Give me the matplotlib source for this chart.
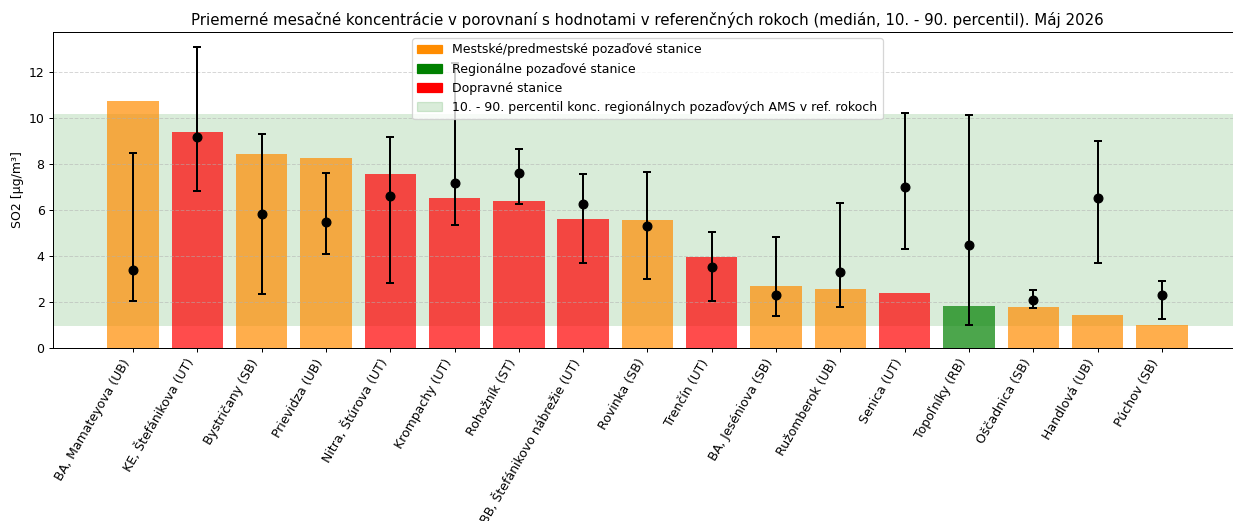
import matplotlib
matplotlib.use("Agg")
import matplotlib.pyplot as plt
from matplotlib.patches import Patch
import numpy as np

stations = ["BA, Mamateyova (UB)", "KE, Štefánikova (UT)", "Bystričany (SB)", "Prievidza (UB)",
            "Nitra, Štúrova (UT)", "Krompachy (UT)", "Rohožník (ST)", "BB, Štefánikovo nábrežie (UT)",
            "Rovinka (SB)", "Trenčín (UT)", "BA, Jeséniova (SB)", "Ružomberok (UB)", "Senica (UT)",
            "Topoľníky (RB)", "Oščadnica (SB)", "Handlová (UB)", "Púchov (SB)"]
station_types = ["U", "T", "U", "U", "T", "T", "T", "T", "U", "T", "U", "U", "T", "R", "U", "U", "U"]
monthly_mean = [10.74, 9.39, 8.43, 8.26, 7.57, 6.52, 6.39, 5.61, 5.57, 3.96, 2.70, 2.57, 2.39,
                1.83, 1.78, 1.43, 1.00]
ref_median = [3.39, 9.17, 5.85, 5.48, 6.61, 7.17, 7.61, 6.26, 5.30, 3.52, 2.30, 3.30, 7.00,
              4.50, 2.09, 6.52, 2.30]
ref_p10 = [2.04, 6.83, 2.35, 4.09, 2.83, 5.35, 6.26, 3.70, 3.00, 2.04, 1.39, 1.78, 4.30,
           1.00, 1.74, 3.70, 1.26]
ref_p90 = [8.48, 13.09, 9.30, 7.61, 9.20, 12.40, 8.65, 7.57, 7.65, 5.04, 4.83, 6.30, 10.22,
           10.15, 2.52, 9.00, 2.91]
band_low, band_high = 0.97, 10.20

type_colors = {"U": "darkorange", "R": "green", "T": "red"}
legend_labels = ["Mestské/predmestské pozaďové stanice", "Regionálne pozaďové stanice", "Dopravné stanice",
                 "10. - 90. percentil konc. regionálnych pozaďových AMS v ref. rokoch"]

DPI = 90
fig = plt.figure(figsize=(1233 / DPI, 521 / DPI), dpi=DPI)
ax = fig.add_axes([0.0432, 0.332, 0.9638, 0.6065])

x = np.arange(len(stations))
ax.axhspan(band_low, band_high, color="green", alpha=0.15, lw=0)
ax.bar(x, monthly_mean, width=0.8, color=[type_colors[t] for t in station_types], alpha=0.7)
med = np.array(ref_median)
yerr = np.vstack([med - np.array(ref_p10), np.array(ref_p90) - med])
ax.errorbar(x, med, yerr=yerr, fmt="o", color="black", markersize=7, capsize=3.5,
            elinewidth=1.6, capthick=1.6)

ax.set_ylim(0, max(ref_p90) * 1.05)
ax.set_xticks(x)
ax.set_xticklabels(stations, rotation=60, ha="right")
ax.set_ylabel("SO2 [µg/m³]")
ax.yaxis.grid(True, linestyle="--", alpha=0.5)
ax.set_title("Priemerné mesačné koncentrácie v porovnaní s hodnotami v referenčných rokoch "
             "(medián, 10. - 90. percentil). Máj 2026", fontsize=12)

handles = [Patch(color="darkorange"), Patch(color="green"), Patch(color="red"),
           Patch(color="green", alpha=0.15)]
ax.legend(handles, legend_labels, loc="upper center")

fig.savefig("out.png", dpi=DPI)
